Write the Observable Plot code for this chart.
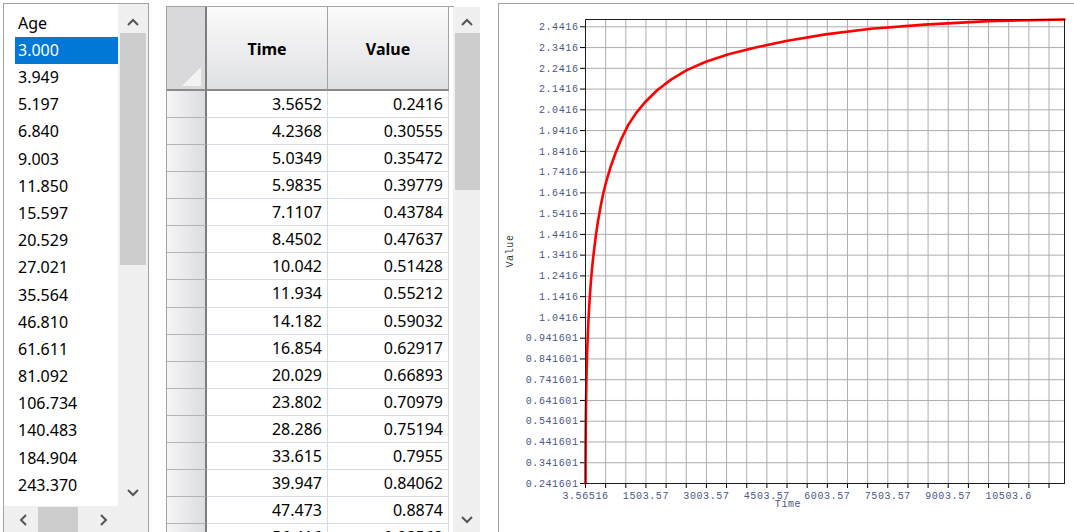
<!DOCTYPE html>
<html>
<head>
<meta charset="utf-8">
<script src="https://cdn.jsdelivr.net/npm/d3@7"></script>
<script src="https://cdn.jsdelivr.net/npm/@observablehq/plot@0.6"></script>
<style>
html, body { margin: 0; padding: 0; background: #fff; width: 1074px; height: 532px; overflow: hidden; font-family: "Noto Sans", "Open Sans", sans-serif; }
.abs { position: absolute; box-sizing: border-box; }
.item { position: absolute; left: 15px; width: 103px; height: 27px; line-height: 27px; padding-left: 3px; font-size: 16px; color: #000; box-sizing: border-box; white-space: nowrap; }
.item.sel { background: #0078d7; color: #fff; }
.sb { background: #f0f0f0; }
.thumb { background: #cdcdcd; }
.rh { position: absolute; left: 167px; width: 40px; background: linear-gradient(to right, #f5f5f6, #dcdde0); border-right: 2px solid #7d7d7d; border-bottom: 1px solid #b4b4b4; box-sizing: border-box; }
.cell { position: absolute; height: 27px; line-height: 27px; text-align: right; padding-right: 5px; font-size: 16px; color: #000; border-right: 1px solid #d5dce6; border-bottom: 1px solid #d5dce6; box-sizing: border-box; background: #fff; }
.hcell { position: absolute; top: 7px; height: 84px; line-height: 84px; text-align: center; font-size: 16px; font-weight: bold; color: #000; background: linear-gradient(to bottom, #fbfbfb, #dfe0e3); border-right: 1px solid #a3a3a3; border-bottom: 2px solid #8a8a8a; box-sizing: border-box; }
#chart svg text { letter-spacing: 0.6px; }
</style>
</head>
<body>
<div id="root"></div>
<script>
// ---------- data ----------
const ageList = ["Age", "3.000", "3.949", "5.197", "6.840", "9.003", "11.850", "15.597", "20.529", "27.021", "35.564", "46.810", "61.611", "81.092", "106.734", "140.483", "184.904", "243.370"];
const selectedAge = "3.000";

const tableTime = ["3.5652", "4.2368", "5.0349", "5.9835", "7.1107", "8.4502", "10.042", "11.934", "14.182", "16.854", "20.029", "23.802", "28.286", "33.615", "39.947", "47.473", "56.416"];
const tableValue = ["0.2416", "0.30555", "0.35472", "0.39779", "0.43784", "0.47637", "0.51428", "0.55212", "0.59032", "0.62917", "0.66893", "0.70979", "0.75194", "0.7955", "0.84062", "0.8874", "0.93568"];

// curve (Time, Value) — first rows from the table, the rest
const curveTime = [3.5652, 4.2368, 5.0349, 5.9835, 7.1107, 8.4502, 10.042, 11.934, 14.182, 16.854, 20.029, 23.802, 28.286, 33.615, 39.947, 47.473,
  56.416, 67.045, 79.676, 94.686, 112.52, 133.72, 158.91, 188.85, 224.42, 266.70, 316.94, 376.65, 447.61, 531.93, 632.14, 751.23,
  892.75, 1060.9, 1260.8, 1498.3, 1780.6, 2116.0, 2514.7, 2988.4, 3551.4, 4220.4, 5015.5, 5960.4, 7083.3, 8417.7, 10003, 11888];
const curveValue = [0.2416, 0.30555, 0.35472, 0.39779, 0.43784, 0.47637, 0.51428, 0.55212, 0.59032, 0.62917, 0.66893, 0.70979, 0.75194, 0.7955, 0.84062, 0.8874,
  0.9357, 0.9860, 1.0380, 1.0920, 1.1480, 1.2050, 1.2630, 1.3210, 1.3800, 1.4440, 1.5090, 1.5750, 1.6420, 1.7060, 1.7700, 1.8350,
  1.9010, 1.9680, 2.0270, 2.0820, 2.1360, 2.1860, 2.2330, 2.2730, 2.3090, 2.3420, 2.3740, 2.4050, 2.4320, 2.4520, 2.4690, 2.4768];

const xGrid = [3.56516, 503.56516, 1003.56516, 1503.56516, 2003.56516, 2503.56516, 3003.56516, 3503.56516, 4003.56516, 4503.56516, 5003.56516, 5503.56516,
  6003.56516, 6503.56516, 7003.56516, 7503.56516, 8003.56516, 8503.56516, 9003.56516, 9503.56516, 10003.56516, 10503.56516, 11003.56516, 11503.56516];
const xLabelTicks = [3.56516, 1503.56516, 3003.56516, 4503.56516, 6003.56516, 7503.56516, 9003.56516, 10503.56516];
const xTickLabels = ["3.56516", "1503.57", "3003.57", "4503.57", "6003.57", "7503.57", "9003.57", "10503.6"];

const yGrid = [0.241601, 0.341601, 0.441601, 0.541601, 0.641601, 0.741601, 0.841601, 0.941601, 1.041601, 1.141601, 1.241601, 1.341601,
  1.441601, 1.541601, 1.641601, 1.741601, 1.841601, 1.941601, 2.041601, 2.141601, 2.241601, 2.341601, 2.441601];
const yTickLabels = ["0.241601", "0.341601", "0.441601", "0.541601", "0.641601", "0.741601", "0.841601", "0.941601", "1.0416", "1.1416", "1.2416", "1.3416",
  "1.4416", "1.5416", "1.6416", "1.7416", "1.8416", "1.9416", "2.0416", "2.1416", "2.2416", "2.3416", "2.4416"];

const xDomain = [3.56516, 11888];
const yDomain = [0.241601, 2.4768];

// ---------- helpers ----------
const root = document.getElementById("root");
function box(cls, css, html) {
  const d = document.createElement("div");
  d.className = cls;
  d.style.cssText = css;
  if (html != null) d.innerHTML = html;
  root.appendChild(d);
  return d;
}
function chevron(cx, cy, dir) {
  const pts = {
    up: "-5,3 0,-2 5,3",
    down: "-5,-2 0,3 5,-2",
    left: "3,-5 -2,0 3,5",
    right: "-2,-5 3,0 -2,5"
  }[dir];
  box("abs", `left:${cx - 8}px;top:${cy - 8}px;width:16px;height:16px;`,
    `<svg width="16" height="16" viewBox="-8 -8 16 16"><polyline points="${pts}" fill="none" stroke="#555" stroke-width="2"/></svg>`);
}

// ---------- list box ----------
box("abs", "left:3px;top:3px;width:146px;height:560px;border:1px solid #a3a3a3;background:#fff;");
ageList.forEach((a, i) => {
  const top = 9.7 + 27.18 * i;
  box("item" + (a === selectedAge ? " sel" : ""), `top:${top}px;`, a);
});
box("abs sb", "left:118px;top:4px;width:30px;height:540px;");
box("abs thumb", "left:119.5px;top:33px;width:26px;height:232px;");
chevron(133, 21, "up");
chevron(133, 491, "down");
box("abs sb", "left:4px;top:506px;width:114px;height:30px;");
box("abs thumb", "left:38px;top:507px;width:40px;height:25px;");
chevron(23, 519, "left");
chevron(103, 519, "right");

// ---------- table ----------
box("abs", "left:166px;top:6px;width:288px;height:560px;border:1px solid #a3a3a3;background:#fff;");
box("abs", "left:167px;top:7px;width:40px;height:84px;background:#d9d9db;border-right:2px solid #7d7d7d;border-bottom:2px solid #8a8a8a;",
  `<svg width="38" height="82" style="position:absolute;left:0;top:0"><polygon points="34,60 34,79 15,79" fill="#f3f3f3"/></svg>`);
box("hcell", "left:207px;width:121px;", "Time");
box("hcell", "left:328px;width:121px;", "Value");
tableTime.forEach((t, i) => {
  const top = 91 + 27.07 * i;
  box("rh", `top:${top}px;height:27.07px;`);
  box("cell", `left:207px;width:121px;top:${top}px;height:27.07px;`, t);
  box("cell", `left:328px;width:121px;top:${top}px;height:27.07px;`, tableValue[i]);
});
box("abs sb", "left:453px;top:7px;width:27px;height:540px;");
box("abs thumb", "left:455px;top:33px;width:25px;height:157px;");
chevron(467, 21, "up");
chevron(467, 518, "down");

// ---------- chart panel ----------
box("abs", "left:498px;top:3px;width:600px;height:600px;border:1px solid #a3a3a3;background:#fff;");
const holder = box("abs", "left:500px;top:5px;width:574px;height:527px;");
holder.id = "chart";

const data = curveTime.map((t, i) => ({ time: t, value: curveValue[i] }));
const xLabelMap = new Map(xLabelTicks.map((v, i) => [v, xTickLabels[i]]));
const yLabelMap = new Map(yGrid.map((v, i) => [v, yTickLabels[i]]));
const labelColor = "#4a5688";

const chart = Plot.plot({
  width: 574,
  height: 527,
  marginLeft: 85,
  marginRight: 10,
  marginTop: 14,
  marginBottom: 49,
  x: { domain: xDomain, axis: null },
  y: { domain: yDomain, axis: null },
  style: { background: "transparent", fontFamily: "'Liberation Mono', 'DejaVu Sans Mono', monospace", fontSize: "10px", overflow: "visible" },
  marks: [
    Plot.ruleX(xGrid, { stroke: "#adadad", strokeWidth: 1 }),
    Plot.ruleY(yGrid, { stroke: "#adadad", strokeWidth: 1 }),
    Plot.axisY(yGrid, { anchor: "left", tickSize: 5, tickPadding: 2, stroke: "#000", fill: labelColor, tickFormat: d => yLabelMap.get(d), label: null }),
    Plot.axisX(xGrid, { anchor: "bottom", tickSize: 5, tickPadding: 3, stroke: "#000", fill: labelColor, tickFormat: d => xLabelMap.get(d) ?? "", label: null }),
    Plot.line(data, { x: "time", y: "value", stroke: "#ff0000", strokeWidth: 2.6 }),
    Plot.frame({ stroke: "#1e1e1e" }),
    Plot.text(["Value"], { text: d => d, frameAnchor: "left", rotate: -90, dx: -76, dy: 16, fill: "#3a3a3a" }),
    Plot.text(["Time"], { text: d => d, frameAnchor: "bottom", dx: -37, dy: 23, fill: labelColor })
  ]
});
holder.appendChild(chart);
</script>
</body>
</html>
